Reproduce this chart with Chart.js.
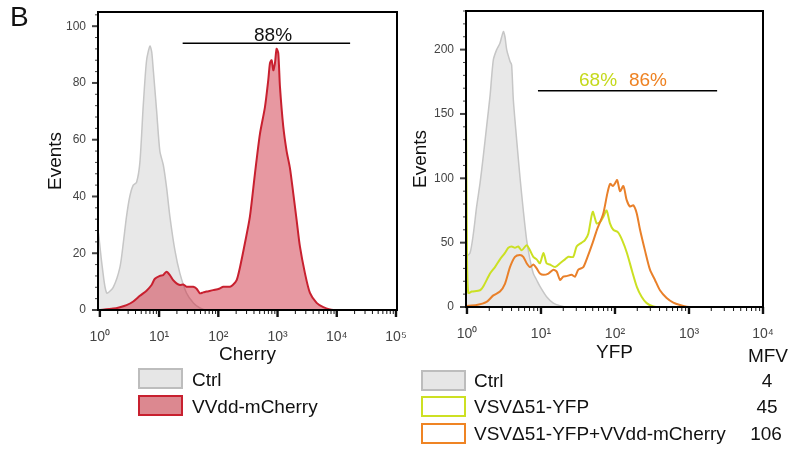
<!DOCTYPE html>
<html>
<head>
<meta charset="utf-8">
<script src="https://cdn.jsdelivr.net/npm/chart.js@4.4.1/dist/chart.umd.min.js"></script>
<style>
    body { margin: 0; background: #fff; }
    #wrap { position: relative; width: 799px; height: 449px; overflow: hidden; font-family: "Liberation Sans", Arial, sans-serif; color: #111; }
    canvas { position: absolute; top: 0; }
    #cherryChart { left: 0; }
    #yfpChart { left: 400px; }
    .tag { position: absolute; left: 10px; top: 1px; font-size: 28px; }
    .txt { position: absolute; font-size: 19px; line-height: 21px; white-space: nowrap; }
    .box { position: absolute; width: 45px; height: 21px; box-sizing: border-box; border: 2px solid; }
    .num { position: absolute; width: 50px; text-align: center; font-size: 19px; line-height: 21px; }
</style>
</head>
<body>
<div id="wrap">
    <canvas id="cherryChart" width="420" height="370"></canvas>
    <canvas id="yfpChart" width="399" height="370"></canvas>
    <div class="tag">B</div>

    <!-- left legend -->
    <div class="box" style="left:138px;top:368px;background:#e6e6e6;border-color:#bdbdbd"></div>
    <div class="txt" style="left:192px;top:369px">Ctrl</div>
    <div class="box" style="left:138px;top:395px;background:#dc8890;border-color:#c8202f"></div>
    <div class="txt" style="left:192px;top:396px">VVdd-mCherry</div>

    <!-- right legend -->
    <div class="num" style="left:743px;top:345px">MFV</div>
    <div class="box" style="left:421px;top:370px;background:#e6e6e6;border-color:#bdbdbd"></div>
    <div class="txt" style="left:474px;top:370px">Ctrl</div>
    <div class="num" style="left:742px;top:370px">4</div>
    <div class="box" style="left:421px;top:396px;background:#fff;border-color:#cde023"></div>
    <div class="txt" style="left:474px;top:396px">VSVΔ51-YFP</div>
    <div class="num" style="left:742px;top:396px">45</div>
    <div class="box" style="left:421px;top:423px;background:#fff;border-color:#ef8424"></div>
    <div class="txt" style="left:474px;top:423px">VSVΔ51-YFP+VVdd-mCherry</div>
    <div class="num" style="left:741px;top:423px">106</div>
</div>
<script>
// Cherry panel (left)
const cherryTickValues = [1, 10, 100, 1000, 10000, 100000];
const cherryTickLabels = ['10⁰', '10¹', '10²', '10³', '10⁴', '10⁵'];
const cherryCtrlX = [0.95, 1.1, 1.3, 1.68, 2.18, 2.5, 2.82, 3.2, 3.66, 4.17, 4.74, 5.4, 6.15, 7.0, 7.5, 7.95, 9.1, 10.3, 11.8, 13.4, 15.2, 18.5, 22.4, 29, 38, 49, 63, 104000];
const cherryCtrlY = [27, 15, 6, 8, 15, 24, 33, 40, 44, 45, 52, 72, 88, 93, 91, 85, 70, 56, 51, 43, 33, 21, 13, 6, 2.5, 0.7, 0, 0];
const cherryVvddX = [0.95, 1.68, 2.18, 2.82, 3.66, 4.74, 6.14, 7.46, 8.49, 10.3, 11.7, 13.4, 15.2, 17.3, 19.7, 22.5, 25.6, 29.1, 37.7, 43, 48.9, 55.6, 63.4, 82, 106, 121, 157, 179, 204, 232, 281, 342, 415, 504, 613, 697, 745, 794, 848, 904, 964, 1029, 1099, 1250, 1423, 1620, 1845, 2100, 2390, 2900, 3525, 4570, 5930, 8740, 104000];
const cherryVvddY = [0, 0.5, 1, 1.7, 3, 5, 6.8, 8.8, 11, 12, 12.3, 13.5, 12.3, 10.5, 9.4, 8.8, 9, 8.2, 8.2, 7.5, 5.9, 6.2, 6.5, 7, 7.6, 8.2, 8.2, 9, 10.5, 15, 23.5, 33, 48, 62, 71.5, 81, 87, 88, 84.5, 87, 92, 90.5, 78.6, 64.6, 56, 50, 41, 31.7, 22.3, 13, 6, 2.5, 1, 0, 0];
const cherryGate = { from: 25, to: 16800, level: 94 };
const cherryGateLabels = [{ text: '88%', x: 840, color: '#111' }];

// YFP panel (right)
const yfpTickValues = [1, 10, 100, 1000, 10000];
const yfpTickLabels = ['10⁰', '10¹', '10²', '10³', '10⁴'];
const yfpCtrlX = [0.97, 1.1, 1.22, 1.35, 1.5, 1.66, 1.84, 2.05, 2.27, 2.52, 2.79, 3.1, 3.26, 3.44, 3.81, 4.01, 4.23, 4.69, 5.2, 5.77, 6.4, 7.1, 7.88, 8.74, 9.69, 11.9, 14.7, 18.1, 22.2, 10000];
const yfpCtrlY = [39, 42, 57, 78, 96, 117, 140, 164, 192, 200, 205, 214, 210, 200, 191, 188, 161, 130, 101, 75, 52, 37, 26, 21, 16, 8, 3, 1, 0, 0];
const yfpVsvX = [0.97, 1.0, 1.04, 1.16, 1.5, 1.66, 2.05, 2.39, 2.79, 3.26, 3.62, 4.01, 4.45, 4.94, 5.48, 6.4, 7.1, 7.88, 8.74, 9.69, 10.8, 11.9, 13.2, 15.5, 18.1, 21.1, 23.4, 27.3, 30.3, 35.5, 39.3, 43.6, 50, 56.5, 63, 69.5, 77, 85.5, 94.9, 110, 125, 145, 170, 198, 229, 268, 330, 400, 10000];
const yfpVsvY = [160, 40, 11, 12, 13, 16, 26, 31, 37, 42, 46, 47, 46, 47, 44, 48, 44, 39, 37, 34, 42, 34, 33, 31, 34, 37, 39, 39, 47, 50, 52, 57, 74, 65, 66, 70, 75, 65, 60, 58, 52, 42, 28, 15.5, 8, 3, 0.5, 0, 0];
const yfpComboX = [0.97, 1.35, 1.84, 2.27, 2.79, 3.26, 3.81, 4.45, 5.2, 5.77, 6.4, 7.1, 7.88, 8.74, 9.69, 10.8, 12.6, 14.7, 16.3, 18.1, 20.0, 22.2, 25.9, 28.8, 32.0, 37.3, 42, 50, 57, 69, 79, 86, 94, 100, 107, 117, 130, 144, 160, 177, 196, 218, 254, 297, 347, 405, 499, 614, 755, 930, 1100, 10000];
const yfpComboY = [0.8, 1.5, 4, 9, 12, 18, 31, 39, 40.5, 39, 34, 31, 33, 30, 26, 25, 26, 29, 27.5, 21, 23.6, 24, 25, 23.6, 29, 31, 38, 50, 60, 72, 88.5, 95.6, 94, 96, 98.7, 90, 94, 83, 78, 79, 73, 60, 44, 29, 21, 13, 7, 3.4, 1.5, 0.3, 0, 0];
const yfpGate = { from: 9.1, to: 2400, level: 168 };
const yfpGateLabels = [{ text: '68%', x: 59, color: '#c5d91c' }, { text: '86%', x: 279, color: '#ee8222' }];

const FONT = "'Liberation Sans', Arial, sans-serif";

function points(xs, ys) {
    return xs.map((x, i) => ({ x: x, y: ys[i] }));
}

function logTicks(decades) {
    const out = [];
    decades.forEach((d, i) => {
        out.push({ value: d });
        if (i < decades.length - 1) {
            for (let k = 2; k < 10; k++) out.push({ value: d * k });
        }
    });
    return out;
}

// frame, tick marks and gate bar
const axisMarks = {
    id: 'axisMarks',
    afterDraw(chart, args, opts) {
        const { ctx, chartArea: a, scales } = chart;
        ctx.save();
        ctx.strokeStyle = '#111';
        scales.x.ticks.forEach(t => {
            const px = scales.x.getPixelForValue(t.value);
            const major = opts.decades.includes(t.value);
            ctx.lineWidth = major ? 2.4 : 1;
            ctx.beginPath();
            ctx.moveTo(px, a.bottom);
            ctx.lineTo(px, a.bottom + (major ? 7 : 4));
            ctx.stroke();
        });
        ctx.strokeStyle = '#444';
        scales.y.ticks.forEach(t => {
            const py = scales.y.getPixelForValue(t.value);
            const major = t.value % opts.yMajor === 0;
            ctx.lineWidth = major ? 2 : 1;
            ctx.beginPath();
            ctx.moveTo(a.left, py);
            ctx.lineTo(a.left - (major ? 6 : 3), py);
            ctx.stroke();
        });
        ctx.strokeStyle = '#000';
        ctx.lineWidth = 2;
        ctx.strokeRect(a.left, a.top, a.width, a.height);

        const g = opts.gate;
        const gy = scales.y.getPixelForValue(g.level);
        ctx.lineWidth = 1.5;
        ctx.beginPath();
        ctx.moveTo(scales.x.getPixelForValue(g.from), gy);
        ctx.lineTo(scales.x.getPixelForValue(g.to), gy);
        ctx.stroke();
        ctx.font = '19px ' + FONT;
        ctx.textAlign = 'center';
        ctx.textBaseline = 'alphabetic';
        opts.labels.forEach(l => {
            ctx.fillStyle = l.color;
            ctx.fillText(l.text, scales.x.getPixelForValue(l.x), gy - opts.textGap);
        });
        ctx.restore();
    }
};

function makeChart(id, cfg) {
    const ctx = document.getElementById(id).getContext('2d');
    return new Chart(ctx, {
        type: 'line',
        data: { datasets: cfg.datasets },
        options: {
            responsive: false,
            animation: false,
            layout: { padding: cfg.padding },
            elements: { point: { radius: 0 }, line: { tension: 0.25, borderJoinStyle: 'round' } },
            plugins: {
                legend: { display: false },
                tooltip: { enabled: false },
                axisMarks: {
                    decades: cfg.tickValues, yMajor: cfg.yMajor,
                    gate: cfg.gate, labels: cfg.gateLabels, textGap: cfg.textGap
                }
            },
            scales: {
                x: {
                    type: 'logarithmic',
                    min: cfg.xMin, max: cfg.xMax,
                    grid: { display: true, drawOnChartArea: false, drawTicks: true, tickLength: 7, color: 'rgba(0,0,0,0)' },
                    border: { display: false },
                    afterBuildTicks: scale => { scale.ticks = logTicks(cfg.tickValues); },
                    afterFit: scale => { scale.height = cfg.xAxisHeight; scale.paddingLeft = 0; scale.paddingRight = 0; },
                    ticks: {
                        autoSkip: false, maxRotation: 0, padding: 12, color: '#444',
                        font: { family: FONT, size: 14 },
                        callback: v => {
                            const i = cfg.tickValues.indexOf(v);
                            return i >= 0 ? cfg.tickLabels[i] : '';
                        }
                    },
                    title: { display: true, text: cfg.xTitle, color: '#111', font: { family: FONT, size: 19 }, padding: { top: 0, bottom: cfg.xTitlePad } }
                },
                y: {
                    min: 0, max: cfg.yMax,
                    grid: { display: true, drawOnChartArea: false, drawTicks: true, tickLength: 6, color: 'rgba(0,0,0,0)' },
                    border: { display: false },
                    afterFit: scale => { scale.width = cfg.yAxisWidth; scale.paddingTop = 0; scale.paddingBottom = 0; },
                    ticks: {
                        stepSize: cfg.yStep, includeBounds: false, autoSkip: false, padding: 6, color: '#444',
                        font: { family: FONT, size: 12 },
                        callback: v => (v % cfg.yMajor === 0 ? String(v) : '')
                    },
                    title: { display: true, text: 'Events', color: '#111', font: { family: FONT, size: 19 }, padding: { top: cfg.yTitlePad, bottom: 0 } }
                }
            }
        },
        plugins: [axisMarks]
    });
}

document.addEventListener('DOMContentLoaded', () => {
    makeChart('cherryChart', {
        datasets: [
            {
                data: points(cherryVvddX, cherryVvddY), borderColor: '#c8202f', borderWidth: 2,
                backgroundColor: 'rgba(205,40,58,0.48)', fill: 'origin'
            },
            {
                data: points(cherryCtrlX, cherryCtrlY), borderColor: '#c6c6c6', borderWidth: 1.5,
                backgroundColor: '#e8e8e8', fill: 'origin'
            }
        ],
        tickValues: cherryTickValues, tickLabels: cherryTickLabels,
        xMin: 0.93, xMax: 104000, yMax: 105, yStep: 4, yMajor: 20,
        gate: cherryGate, gateLabels: cherryGateLabels, textGap: 2,
        padding: { top: 12, right: 23, left: 0, bottom: 0 },
        xAxisHeight: 60, yAxisWidth: 98, xTitle: 'Cherry', xTitlePad: 4, yTitlePad: 44
    });

    makeChart('yfpChart', {
        datasets: [
            { data: points(yfpComboX, yfpComboY), borderColor: '#e9802a', borderWidth: 2, fill: false },
            { data: points(yfpVsvX, yfpVsvY), borderColor: '#cbe023', borderWidth: 2, fill: false },
            {
                data: points(yfpCtrlX, yfpCtrlY), borderColor: '#c6c6c6', borderWidth: 1.5,
                backgroundColor: '#e8e8e8', fill: 'origin'
            }
        ],
        tickValues: yfpTickValues, tickLabels: yfpTickLabels,
        xMin: 0.97, xMax: 10000, yMax: 230, yStep: 10, yMajor: 50,
        gate: yfpGate, gateLabels: yfpGateLabels, textGap: 5,
        padding: { top: 11, right: 36, left: 0, bottom: 0 },
        xAxisHeight: 63, yAxisWidth: 66, xTitle: 'YFP', xTitlePad: 6, yTitlePad: 9
    });
});
</script>
</body>
</html>
